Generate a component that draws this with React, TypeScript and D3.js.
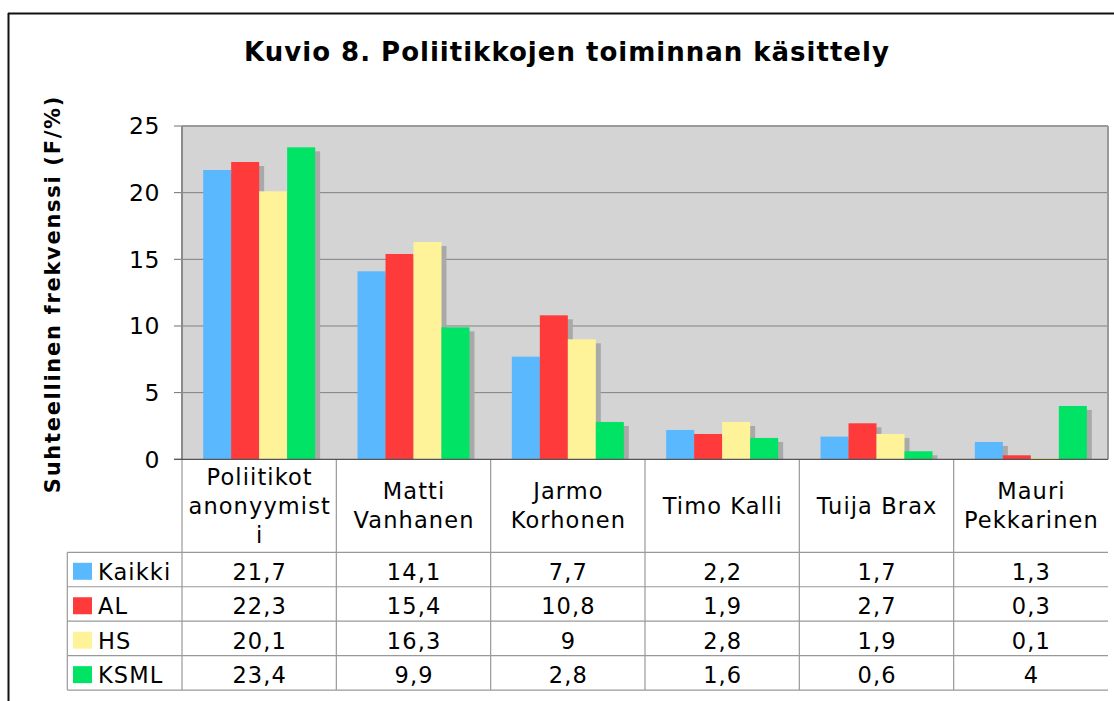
import React from "react";
import * as d3 from "d3";

const title = "Kuvio 8. Poliitikkojen toiminnan käsittely";
const yTitle = "Suhteellinen frekvenssi (F/%)";
const categories = ["Poliitikot anonyymisti", "Matti Vanhanen", "Jarmo Korhonen", "Timo Kalli", "Tuija Brax", "Mauri Pekkarinen"];
const categoryLines = [["Poliitikot", "anonyymist", "i"], ["Matti", "Vanhanen"], ["Jarmo", "Korhonen"], ["Timo Kalli"], ["Tuija Brax"], ["Mauri", "Pekkarinen"]];
const seriesNames = ["Kaikki", "AL", "HS", "KSML"];
const kaikki = [21.7, 14.1, 7.7, 2.2, 1.7, 1.3];
const al = [22.3, 15.4, 10.8, 1.9, 2.7, 0.3];
const hs = [20.1, 16.3, 9, 2.8, 1.9, 0.1];
const ksml = [23.4, 9.9, 2.8, 1.6, 0.6, 4];
const seriesValues = [kaikki, al, hs, ksml];
const seriesColors = ["#5ab8ff", "#ff3a3a", "#fff39a", "#00e364"];
const yTicks = [0, 5, 10, 15, 20, 25];

const FONT = "'DejaVu Sans', Verdana, sans-serif";

export default function App() {
  const W = 1114, H = 701;
  const left = 182, right = 1108, top = 126, bottom = 459.3;
  const tableTop = 552.3, rowH = 34.45, tableLeft = 67.3;
  const x0 = d3.scaleBand<number>().domain(d3.range(categories.length)).range([left, right]).paddingInner(0).paddingOuter(0);
  const x1 = d3.scaleBand<number>().domain(d3.range(seriesNames.length)).range([0, x0.bandwidth()]).paddingInner(0).paddingOuter(0.756);
  const y = d3.scaleLinear().domain([0, 25]).range([bottom, top]);
  const fmt = (v: number) => String(v).replace(".", ",");
  const tableBottom = tableTop + rowH * seriesNames.length;
  const fs = 22.5, ls = 1.1;

  return (
    <svg width={W} height={H} style={{ position: "absolute", left: 0, top: 0, background: "#fff" }} fontFamily={FONT}>
      <rect x={0} y={0} width={W} height={H} fill="#fff" />
      {/* outer frame */}
      <line x1={8} x2={W} y1={13.5} y2={13.5} stroke="#111" strokeWidth={2} />
      <line x1={8.5} x2={8.5} y1={13} y2={H} stroke="#111" strokeWidth={2} />

      <text x={567} y={61} textAnchor="middle" fontSize={26} letterSpacing={1} fontWeight="bold" fill="#000">{title}</text>
      <text transform={`translate(60,294) rotate(-90)`} textAnchor="middle" fontSize={21} letterSpacing={1.7} fontWeight="bold" fill="#000">{yTitle}</text>

      {/* plot background */}
      <rect x={left} y={top} width={right - left} height={bottom - top} fill="#d4d4d4" />
      {yTicks.slice(1, -1).map(t => (
        <line key={t} x1={left} x2={right} y1={y(t)} y2={y(t)} stroke="#808080" strokeWidth={1} />
      ))}
      {yTicks.map(t => (
        <g key={"t" + t}>
          <line x1={174} x2={left} y1={y(t)} y2={y(t)} stroke="#707070" strokeWidth={1} />
          <text x={160} y={y(t)} dy="0.36em" textAnchor="end" fontSize={23.5} letterSpacing={0.5} fill="#000">{t}</text>
        </g>
      ))}
      {/* shadows */}
      {categories.map((c, ci) => seriesValues.map((vals, si) => {
        const bx = x0(ci)! + x1(si)!;
        const by = y(vals[ci]);
        return <rect key={`s${ci}-${si}`} x={bx + 5} y={Math.min(by + 4, bottom)} width={x1.bandwidth()} height={Math.max(0, bottom - by - 4)} fill="#a9a9a9" />;
      }))}
      {/* bars */}
      {categories.map((c, ci) => seriesValues.map((vals, si) => {
        const bx = x0(ci)! + x1(si)!;
        const by = y(vals[ci]);
        return <rect key={`b${ci}-${si}`} x={bx} y={by} width={x1.bandwidth()} height={bottom - by} fill={seriesColors[si]} />;
      }))}
      {/* plot border */}
      <line x1={left} x2={right} y1={top} y2={top} stroke="#9a9a9a" strokeWidth={2} />
      <line x1={right} x2={right} y1={top} y2={bottom} stroke="#9a9a9a" strokeWidth={2} />
      <line x1={left} x2={left} y1={top} y2={bottom} stroke="#8a8a8a" strokeWidth={2} />

      {/* table */}
      {categories.map((c, ci) => (
        <line key={"v" + ci} x1={x0(ci)!} x2={x0(ci)!} y1={bottom} y2={tableBottom} stroke="#999" strokeWidth={1.2} />
      ))}
      <line x1={tableLeft} x2={tableLeft} y1={tableTop} y2={tableBottom} stroke="#999" strokeWidth={1.2} />
      {d3.range(seriesNames.length + 1).map(r => (
        <line key={"h" + r} x1={tableLeft} x2={right} y1={tableTop + r * rowH} y2={tableTop + r * rowH} stroke="#999" strokeWidth={1.2} />
      ))}
      <line x1={174} x2={right} y1={bottom} y2={bottom} stroke="#555" strokeWidth={1.2} />

      {categoryLines.map((lines, ci) => {
        const cx = x0(ci)! + x0.bandwidth() / 2 + ls / 2;
        const cy = (bottom + tableTop) / 2;
        const lh = 29;
        return (
          <text key={"c" + ci} x={cx} textAnchor="middle" fontSize={fs} letterSpacing={ls} fill="#000">
            {lines.map((ln, li) => (
              <tspan key={li} x={cx} y={cy + (li - (lines.length - 1) / 2) * lh} dy="0.36em">{ln}</tspan>
            ))}
          </text>
        );
      })}

      {seriesNames.map((s, si) => {
        const ry = tableTop + si * rowH;
        return (
          <g key={"r" + s}>
            <rect x={73} y={ry + 10.5} width={19} height={17} fill={seriesColors[si]} />
            <text x={98} y={ry + rowH / 2 + 2} dy="0.36em" fontSize={fs} letterSpacing={ls} fill="#000">{s}</text>
            {seriesValues[si].map((v, ci) => (
              <text key={ci} x={x0(ci)! + x0.bandwidth() / 2 + ls / 2} y={ry + rowH / 2 + 2} dy="0.36em" textAnchor="middle" fontSize={fs} letterSpacing={ls} fill="#000">{fmt(v)}</text>
            ))}
          </g>
        );
      })}
    </svg>
  );
}
